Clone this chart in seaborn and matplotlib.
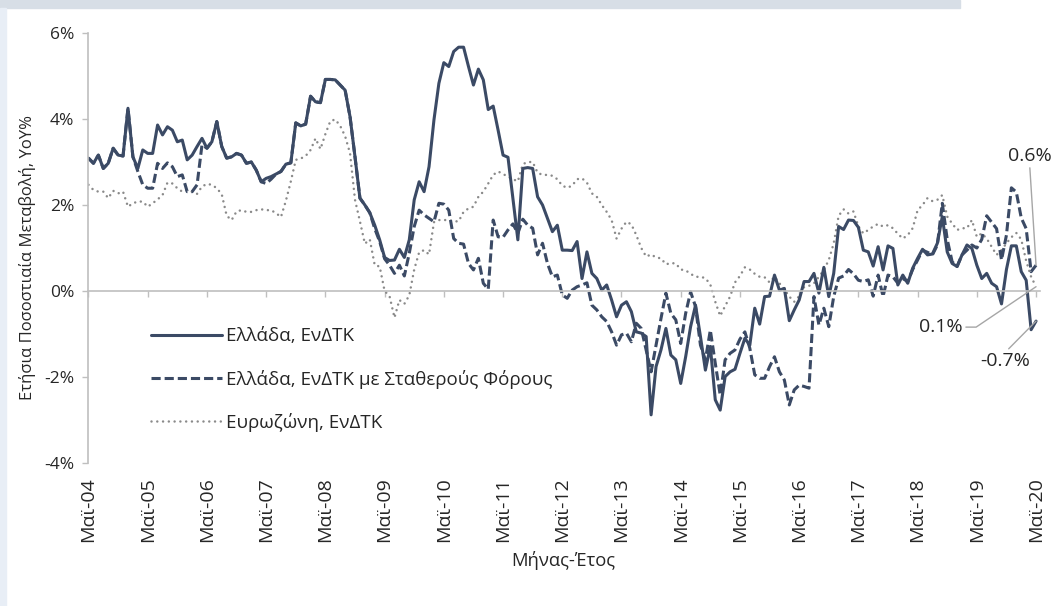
import numpy as np
import pandas as pd
import matplotlib.pyplot as plt
import matplotlib.ticker as mticker
from matplotlib.patches import Rectangle
import seaborn as sns

# Annual % change, monthly from May 2004 to May 2020 (one row per year, May..Apr)
greece_hicp = [
    3.09, 2.97, 3.16, 2.85, 2.97, 3.32, 3.16, 3.14, 4.25, 3.12, 2.85, 3.28,
    3.20, 3.20, 3.86, 3.63, 3.82, 3.74, 3.47, 3.51, 3.05, 3.16, 3.36, 3.55,
    3.32, 3.47, 3.94, 3.36, 3.09, 3.12, 3.20, 3.16, 2.97, 3.00, 2.81, 2.54,
    2.62, 2.66, 2.72, 2.78, 2.95, 2.98, 3.91, 3.84, 3.88, 4.53, 4.40, 4.38,
    4.92, 4.92, 4.91, 4.79, 4.67, 4.05, 3.12, 2.16, 2.00, 1.82, 1.53, 1.19,
    0.78, 0.71, 0.72, 0.97, 0.78, 1.19, 2.12, 2.54, 2.31, 2.89, 3.98, 4.83,
    5.31, 5.22, 5.57, 5.67, 5.67, 5.22, 4.79, 5.16, 4.91, 4.22, 4.30, 3.74,
    3.16, 3.11, 2.16, 1.19, 2.85, 2.87, 2.85, 2.19, 2.00, 1.69, 1.38, 1.53,
    0.95, 0.95, 0.94, 1.15, 0.29, 0.91, 0.41, 0.29, 0.02, 0.14, -0.21, -0.60,
    -0.33, -0.25, -0.48, -0.95, -0.98, -1.06, -2.88, -1.76, -1.37, -0.87, -1.49, -1.60,
    -2.15, -1.53, -0.83, -0.33, -1.06, -1.84, -1.29, -2.53, -2.77, -1.99, -1.88, -1.82,
    -1.45, -1.10, -1.26, -0.40, -0.77, -0.13, -0.12, 0.37, 0.02, 0.06, -0.69, -0.44,
    -0.21, 0.22, 0.22, 0.41, -0.05, 0.55, -0.13, 0.41, 1.50, 1.43, 1.65, 1.64,
    1.48, 0.95, 0.91, 0.58, 1.03, 0.49, 1.05, 0.99, 0.14, 0.37, 0.18, 0.53,
    0.76, 0.97, 0.84, 0.86, 1.11, 1.73, 0.91, 0.64, 0.57, 0.84, 1.07, 0.99,
    0.60, 0.29, 0.41, 0.18, 0.10, -0.30, 0.50, 1.05, 1.05, 0.45, 0.25, -0.90,
    -0.70,
]

greece_hicp_ct = [
    3.09, 2.97, 3.16, 2.85, 2.97, 3.32, 3.16, 3.14, 4.25, 3.12, 2.78, 2.47,
    2.39, 2.39, 2.97, 2.85, 2.98, 2.89, 2.66, 2.70, 2.31, 2.31, 2.47, 3.40,
    3.32, 3.47, 3.94, 3.36, 3.09, 3.12, 3.20, 3.16, 2.97, 3.00, 2.81, 2.54,
    2.50, 2.60, 2.72, 2.78, 2.95, 2.98, 3.91, 3.84, 3.88, 4.53, 4.40, 4.38,
    4.92, 4.92, 4.91, 4.79, 4.67, 4.05, 3.12, 2.16, 2.00, 1.82, 1.45, 1.15,
    0.75, 0.60, 0.41, 0.60, 0.35, 0.88, 1.50, 1.88, 1.77, 1.69, 1.61, 2.04,
    2.02, 1.88, 1.22, 1.11, 1.09, 0.64, 0.49, 0.76, 0.18, 0.04, 1.65, 1.26,
    1.25, 1.42, 1.56, 1.34, 1.67, 1.53, 1.46, 0.84, 1.11, 0.64, 0.33, 0.37,
    -0.09, -0.17, 0.02, 0.10, 0.14, 0.19, -0.33, -0.44, -0.60, -0.71, -0.95, -1.26,
    -1.02, -0.98, -1.18, -0.75, -0.87, -1.37, -1.88, -1.26, -0.64, -0.05, -0.52, -0.67,
    -1.22, -0.52, -0.02, -0.36, -1.26, -1.60, -0.91, -1.68, -2.42, -1.60, -1.45, -1.37,
    -1.12, -0.95, -1.33, -1.95, -2.03, -2.03, -1.76, -1.53, -1.88, -2.07, -2.65, -2.30,
    -2.19, -2.22, -2.26, -0.13, -0.79, -0.40, -0.83, -0.13, 0.30, 0.35, 0.50, 0.40,
    0.25, 0.22, 0.26, -0.12, 0.37, -0.13, 0.37, 0.33, 0.18, 0.29, 0.22, 0.50,
    0.72, 0.95, 0.90, 0.84, 1.07, 2.04, 1.20, 0.68, 0.57, 0.84, 0.95, 1.07,
    1.00, 1.20, 1.75, 1.60, 1.45, 0.72, 1.30, 2.40, 2.30, 1.70, 1.45, 0.45,
    0.60,
]

euro_hicp = [
    2.47, 2.35, 2.31, 2.31, 2.16, 2.33, 2.27, 2.31, 1.96, 2.04, 2.08, 2.08,
    1.96, 2.04, 2.13, 2.23, 2.52, 2.50, 2.39, 2.31, 2.35, 2.31, 2.26, 2.43,
    2.49, 2.47, 2.39, 2.25, 1.75, 1.65, 1.85, 1.88, 1.84, 1.84, 1.88, 1.90,
    1.88, 1.88, 1.81, 1.72, 2.10, 2.55, 3.05, 3.08, 3.14, 3.28, 3.55, 3.30,
    3.65, 3.95, 3.99, 3.84, 3.60, 3.20, 2.12, 1.62, 1.10, 1.20, 0.60, 0.57,
    0.00, -0.12, -0.62, -0.21, -0.30, -0.10, 0.50, 0.90, 0.95, 0.85, 1.60, 1.65,
    1.65, 1.65, 1.62, 1.62, 1.84, 1.92, 1.96, 2.19, 2.31, 2.50, 2.70, 2.78,
    2.72, 2.66, 2.60, 2.55, 2.95, 3.00, 3.00, 2.75, 2.70, 2.70, 2.68, 2.60,
    2.45, 2.40, 2.45, 2.60, 2.62, 2.52, 2.27, 2.19, 2.00, 1.84, 1.65, 1.22,
    1.45, 1.61, 1.55, 1.30, 1.00, 0.80, 0.85, 0.78, 0.76, 0.62, 0.65, 0.64,
    0.50, 0.48, 0.40, 0.33, 0.33, 0.30, 0.15, -0.25, -0.58, -0.35, -0.13, 0.20,
    0.35, 0.55, 0.50, 0.40, 0.33, 0.32, 0.20, 0.33, 0.18, 0.04, -0.13, -0.25,
    -0.12, 0.09, 0.12, 0.18, 0.33, 0.49, 0.72, 1.11, 1.75, 1.90, 1.80, 1.85,
    1.50, 1.34, 1.42, 1.50, 1.56, 1.50, 1.53, 1.46, 1.33, 1.22, 1.30, 1.46,
    1.88, 2.00, 2.16, 2.09, 2.12, 2.23, 1.73, 1.57, 1.42, 1.46, 1.46, 1.65,
    1.26, 1.34, 1.22, 1.03, 0.84, 0.95, 1.11, 1.25, 1.35, 1.20, 0.70, 0.33,
    0.10,
]

series_labels = ['Ελλάδα, ΕνΔΤΚ',
                 'Ελλάδα, ΕνΔΤΚ με Σταθερούς Φόρους',
                 'Ευρωζώνη, ΕνΔΤΚ']
first_year = 2004
end_labels = ['0.6%', '0.1%', '-0.7%']

months = np.arange(len(greece_hicp))
tick_pos = months[::12]
tick_labels = ['Μαϊ-{:02d}'.format((first_year + k) % 100)
               for k in range(len(tick_pos))]

df = pd.DataFrame({'month': months,
                   series_labels[0]: greece_hicp,
                   series_labels[1]: greece_hicp_ct,
                   series_labels[2]: euro_hicp})

sns.set_theme(style='white')
plt.rcParams['font.family'] = ['Open Sans', 'DejaVu Sans']

navy = '#3b4a65'
grey = '#8a8a8a'
axis_grey = '#bfbfbf'
text_col = '#262626'

fig = plt.figure(figsize=(10.58, 6.06), dpi=100)
ax = fig.add_axes([88 / 1058, 1 - 463 / 606, 952 / 1058, 430 / 606])

# page decoration from the screenshot
fig.patches.append(Rectangle((0, 1 - 8 / 606), 960 / 1058, 8 / 606,
                             transform=fig.transFigure, color='#d7dee6',
                             zorder=0))
fig.patches.append(Rectangle((0, 0), 6 / 1058, 1 - 8 / 606,
                             transform=fig.transFigure, color='#e8eef6',
                             zorder=0))

sns.lineplot(data=df, x='month', y=series_labels[2], ax=ax, color=grey,
             linewidth=1.8, linestyle=(0, (0.01, 2.3)),
             dash_capstyle='round', label=series_labels[2])
sns.lineplot(data=df, x='month', y=series_labels[0], ax=ax, color=navy,
             linewidth=2.2, label=series_labels[0])
sns.lineplot(data=df, x='month', y=series_labels[1], ax=ax, color=navy,
             linewidth=2.2, linestyle=(0, (3.0, 1.3)),
             label=series_labels[1])

ax.set_xlim(-0.1, 192.8)
ax.set_ylim(-4, 6)
ax.yaxis.set_major_locator(mticker.MultipleLocator(2))
ax.yaxis.set_major_formatter(mticker.FuncFormatter(lambda v, p: '{:.0f}%'.format(v)))

for side in ['top', 'right']:
    ax.spines[side].set_visible(False)
ax.spines['left'].set_color(axis_grey)
ax.spines['left'].set_linewidth(1.2)
ax.spines['bottom'].set_position(('data', 0))
ax.spines['bottom'].set_color(axis_grey)
ax.spines['bottom'].set_linewidth(1.2)

ax.set_xticks(tick_pos)
ax.set_xticklabels([])
ax.tick_params(axis='x', bottom=True, length=4, width=1.0, color=axis_grey)
ax.tick_params(axis='y', left=True, length=4, width=1.0, color=axis_grey,
               labelsize=12.5, labelcolor=text_col, pad=6)

sec = ax.secondary_xaxis(0.0)
sec.set_xticks(tick_pos)
sec.set_xticklabels(tick_labels, rotation=90, fontsize=14, color=text_col)
sec.tick_params(length=0, pad=10)
sec.spines['bottom'].set_visible(False)

ax.set_xlabel('Μήνας-Έτος', fontsize=13.2, color=text_col)
ax.xaxis.set_label_coords(0.499, -0.226)
ax.xaxis.label.set_va('center')
ax.set_ylabel('Ετήσια Ποσοστιαία Μεταβολή, YoY%', fontsize=12,
              color=text_col)
ax.yaxis.set_label_coords(-0.064, 0.478)
ax.yaxis.label.set_va('center')

handles, labels = ax.get_legend_handles_labels()
order = [labels.index(s) for s in series_labels]
ax.legend([handles[k] for k in order], [labels[k] for k in order],
          loc='upper left', bbox_to_anchor=(0.048, 0.355), frameon=False,
          fontsize=13.5, handlelength=3.8, handletextpad=0.2,
          labelspacing=1.3, labelcolor=text_col)

# end-point value labels with leader lines
last = months[-1]
lead = dict(arrowstyle='-', color='#a6a6a6', lw=1.0, shrinkA=0, shrinkB=0)
ax.annotate(end_labels[0], xy=(last, greece_hicp_ct[-1]),
            xytext=(last - 1.3, 3.15), fontsize=14, color=text_col,
            ha='center', va='center',
            arrowprops=dict(lead, relpos=(0.5, 0.0)))
ax.annotate(end_labels[1], xy=(last, euro_hicp[-1]),
            xytext=(last - 19.3, -0.84), fontsize=14, color=text_col,
            ha='center', va='center',
            arrowprops=dict(lead, relpos=(1.0, 0.5),
                            connectionstyle='angle,angleA=0,angleB=34,rad=0'))
ax.annotate(end_labels[2], xy=(last, greece_hicp[-1]),
            xytext=(last - 6.2, -1.63), fontsize=14, color=text_col,
            ha='center', va='center',
            arrowprops=dict(lead, relpos=(0.5, 1.0)))

fig.savefig('out.png', dpi=100)
